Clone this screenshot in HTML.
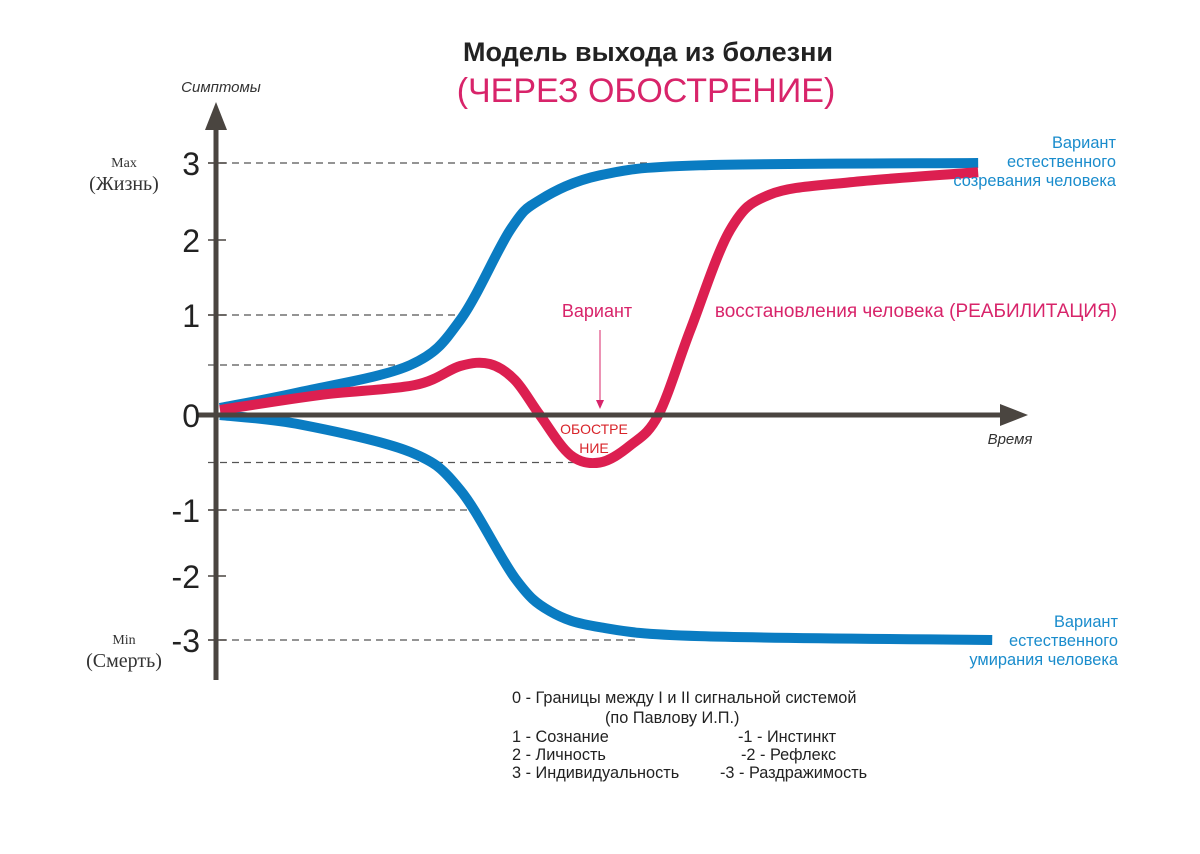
<!DOCTYPE html>
<html><head><meta charset="utf-8"><style>
body{margin:0;background:#fff}
svg text{font-family:"Liberation Sans",sans-serif}
</style></head><body>
<svg id="c" width="1200" height="849" viewBox="0 0 1200 849">
<text x="648" y="61" font-size="27" font-weight="bold" text-anchor="middle" fill="#222">Модель выхода из болезни</text>
<text x="646" y="102" font-size="34" text-anchor="middle" fill="#d8246a">(ЧЕРЕЗ ОБОСТРЕНИЕ)</text>
<text x="221" y="92" font-size="15" font-style="italic" text-anchor="middle" fill="#333">Симптомы</text>
<text x="1010" y="444" font-size="15" font-style="italic" text-anchor="middle" fill="#333">Время</text>
<text x="124" y="167" font-size="14" text-anchor="middle" fill="#333" style="font-family:'Liberation Serif',serif">Max</text>
<text x="124" y="190" font-size="20" text-anchor="middle" fill="#333" style="font-family:'Liberation Serif',serif">(Жизнь)</text>
<text x="124" y="644" font-size="14" text-anchor="middle" fill="#333" style="font-family:'Liberation Serif',serif">Min</text>
<text x="124" y="667" font-size="20" text-anchor="middle" fill="#333" style="font-family:'Liberation Serif',serif">(Смерть)</text>
<g id="grid"></g>
<g id="series"></g>
<g id="axes"></g>
<text x="597" y="317" font-size="18" text-anchor="middle" fill="#d8246a">Вариант</text>
<line x1="600" y1="330" x2="600" y2="403" stroke="#d8246a" stroke-width="1"/>
<path d="M596 400 L600 409 L604 400 Z" fill="#d8246a"/>
<text x="916" y="317" font-size="19" text-anchor="middle" fill="#d8246a">восстановления человека (РЕАБИЛИТАЦИЯ)</text>
<text x="594" y="434" font-size="14" text-anchor="middle" fill="#d8242a">ОБОСТРЕ</text>
<text x="594" y="453" font-size="14" text-anchor="middle" fill="#d8242a">НИЕ</text>
<g fill="#1a8ccc" font-size="16.4" text-anchor="end">
<text x="1116" y="148">Вариант</text><text x="1116" y="167">естественного</text><text x="1116" y="186">созревания человека</text></g>
<g fill="#1a8ccc" font-size="16.4" text-anchor="end">
<text x="1118" y="627">Вариант</text><text x="1118" y="646">естественного</text><text x="1118" y="665">умирания человека</text></g>
<g fill="#222" font-size="16.3">
<text x="512" y="703">0  - Границы между I и II сигнальной системой</text>
<text x="605" y="723">(по Павлову И.П.)</text>
<text x="512" y="742">1 - Сознание</text><text x="738" y="742">-1 - Инстинкт</text>
<text x="512" y="760">2 - Личность</text><text x="741" y="760">-2 - Рефлекс</text>
<text x="512" y="778">3 - Индивидуальность</text><text x="720" y="778">-3 - Раздражимость</text>
</g>
</svg>
<script>
const yTickValues=[-3,-2,-1,0,1,2,3];
const yTickLabels=["-3","-2","-1","0","1","2","3"];
const blueUpT=[0,10.3,24.4,30.8,37.2,41,48.7,61.5,97.2];
const blueUpV=[0.07,0.23,0.5,0.95,2.13,2.52,2.84,2.97,3];
const blueLowT=[0,10.3,24.4,30.8,37.8,42.3,48.7,61.5,99];
const blueLowV=[0,-0.1,-0.39,-0.79,-2.03,-2.55,-2.8,-2.94,-3];
const redT=[0,12.8,25,30.8,34.6,37.8,41,44.9,48.7,52.6,56.2,60.3,65.4,70.5,80.8,97.2];
const redV=[0.05,0.2,0.3,0.49,0.51,0.35,0,-0.42,-0.5,-0.32,0,0.85,2.13,2.59,2.75,2.88];
const dashVals=[3,1,0.5,-0.5,-1,-3];
const dashEnds=[650,460,420,580,470,640];
const NS="http://www.w3.org/2000/svg";
const tickPx=[640,576,510,415,315,240,163];
function y(v){for(let i=0;i<yTickValues.length-1;i++){const a=yTickValues[i],b=yTickValues[i+1];if(v<=b||i==yTickValues.length-2){return tickPx[i]+(v-a)/(b-a)*(tickPx[i+1]-tickPx[i]);}}}
function x(t){return 220+t*7.8;}
function mk(tag,attrs,parent){const e=document.createElementNS(NS,tag);for(const k in attrs)e.setAttribute(k,attrs[k]);document.getElementById(parent).appendChild(e);return e;}
dashVals.forEach((v,i)=>{const l=mk('line',{x1:208,x2:dashEnds[i],y1:y(v),y2:y(v),stroke:'#555','stroke-width':1.2,'stroke-dasharray':'7 5'},'grid');

});
function path(ts,vs){const p=ts.map((t,i)=>[x(t),y(vs[i])]);let d=`M${p[0][0]},${p[0][1]}`;for(let i=0;i<p.length-1;i++){const p0=p[Math.max(0,i-1)],p1=p[i],p2=p[i+1],p3=p[Math.min(p.length-1,i+2)];d+=` C${p1[0]+(p2[0]-p0[0])/6},${p1[1]+(p2[1]-p0[1])/6} ${p2[0]-(p3[0]-p1[0])/6},${p2[1]-(p3[1]-p1[1])/6} ${p2[0]},${p2[1]}`;}return d;}
const s1=mk('path',{d:path(blueUpT,blueUpV),fill:'none',stroke:'#0a7cc2','stroke-width':10},'series');


const s2=mk('path',{d:path(blueLowT,blueLowV),fill:'none',stroke:'#0a7cc2','stroke-width':10},'series');


const s3=mk('path',{d:path(redT,redV),fill:'none',stroke:'#dc1f50','stroke-width':10},'series');


const ya=mk('line',{x1:216,x2:216,y1:125,y2:680,stroke:'#4a4540','stroke-width':5},'axes');


const yh=mk('path',{d:'M205,130 L216,102 L227,130 Z',fill:'#4a4540'},'axes');


const xa=mk('line',{x1:196,x2:1005,y1:415,y2:415,stroke:'#4a4540','stroke-width':5},'axes');


const xh=mk('path',{d:'M1000,404 L1028,415 L1000,426 Z',fill:'#4a4540'},'axes');


yTickValues.forEach((v,i)=>{if(v!==0){const t=mk('line',{x1:208,x2:226,y1:y(v),y2:y(v),stroke:'#4a4540','stroke-width':1.5},'axes');

}
const tx=mk('text',{x:200,y:y(v)+12,'font-size':32,'text-anchor':'end',fill:'#222'},'axes');tx.textContent=yTickLabels[i];

});
</script>
</body></html>
